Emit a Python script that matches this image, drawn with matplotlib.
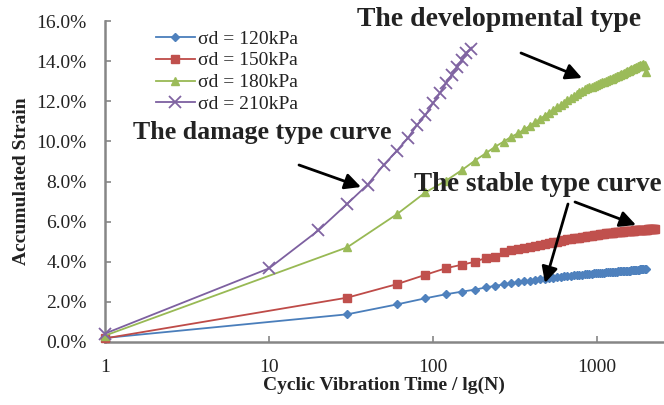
import matplotlib
matplotlib.use("Agg")
import matplotlib.pyplot as plt
from matplotlib.ticker import FuncFormatter, FixedLocator, NullLocator

# ---------------- data ----------------
N_CYCLES = [1, 30, 60, 90, 120, 150, 180, 210, 240, 270, 300, 330, 360, 390, 420, 450,
            480, 510, 540, 570, 600, 630, 660, 690, 720, 750, 780, 810, 840, 870, 900,
            930, 960, 990, 1020, 1050, 1080, 1110, 1140, 1170, 1200, 1230, 1260, 1290,
            1320, 1350, 1380, 1410, 1440, 1470, 1500, 1530, 1560, 1590, 1620, 1650, 1680,
            1710, 1740, 1770, 1800, 1830, 1860, 1890, 1920, 1950, 1980, 2010, 2040, 2070,
            2100, 2130, 2160, 2190, 2220, 2250]

strain_120 = [0.20, 1.38, 1.87, 2.18, 2.38, 2.51, 2.61, 2.72, 2.80, 2.87, 2.93, 2.98, 3.02,
              3.05, 3.09, 3.12, 3.15, 3.18, 3.20, 3.22, 3.25, 3.27, 3.29, 3.30, 3.32, 3.33,
              3.35, 3.36, 3.37, 3.39, 3.40, 3.41, 3.42, 3.43, 3.44, 3.45, 3.46, 3.46, 3.47,
              3.48, 3.49, 3.49, 3.50, 3.51, 3.51, 3.52, 3.52, 3.53, 3.54, 3.54, 3.55, 3.55,
              3.56, 3.56, 3.57, 3.57, 3.58, 3.58, 3.59, 3.60, 3.61, 3.62, 3.63, 3.64, 3.64,
              3.65, 3.66]

strain_150 = [0.18, 2.21, 2.88, 3.35, 3.68, 3.85, 4.00, 4.19, 4.25, 4.50, 4.60, 4.66, 4.70,
              4.74, 4.80, 4.85, 4.89, 4.93, 4.96, 5.00, 5.03, 5.07, 5.12, 5.14, 5.16, 5.18,
              5.20, 5.22, 5.24, 5.26, 5.28, 5.29, 5.31, 5.32, 5.34, 5.36, 5.39, 5.40, 5.41,
              5.42, 5.43, 5.44, 5.45, 5.46, 5.47, 5.48, 5.48, 5.49, 5.50, 5.51, 5.51, 5.52,
              5.53, 5.53, 5.54, 5.55, 5.55, 5.56, 5.56, 5.57, 5.57, 5.58, 5.58, 5.59, 5.59,
              5.60, 5.60, 5.60, 5.61, 5.61, 5.61, 5.62, 5.62, 5.62, 5.63, 5.63]

strain_180 = [0.32, 4.72, 6.36, 7.46, 8.04, 8.57, 9.04, 9.41, 9.74, 9.99, 10.23, 10.40,
              10.60, 10.78, 10.96, 11.12, 11.28, 11.43, 11.56, 11.69, 11.81, 11.92, 12.05,
              12.15, 12.25, 12.34, 12.44, 12.52, 12.59, 12.64, 12.69, 12.73, 12.78, 12.83,
              12.87, 12.91, 12.94, 12.98, 13.02, 13.05, 13.09, 13.12, 13.16, 13.20, 13.24,
              13.28, 13.31, 13.35, 13.38, 13.42, 13.45, 13.49, 13.52, 13.55, 13.59, 13.62,
              13.65, 13.68, 13.71, 13.74, 13.77, 13.80, 13.78, 13.82, 13.84, 13.80, 13.45]

N_CYCLES_210 = [1, 10, 20, 30, 40, 50, 60, 70, 80, 90, 100, 110, 120, 130, 140, 150, 160, 170]
strain_210 = [0.42, 3.67, 5.56, 6.89, 7.85, 8.82, 9.52, 10.15, 10.82, 11.32, 11.90, 12.40,
              12.90, 13.31, 13.69, 14.06, 14.42, 14.60]

series_labels = ["σd = 120kPa", "σd = 150kPa", "σd = 180kPa", "σd = 210kPa"]
x_ticks = [1, 10, 100, 1000]
y_ticks = [0, 2, 4, 6, 8, 10, 12, 14, 16]

# ---------------- figure ----------------
W, H = 664, 405
fig = plt.figure(figsize=(W / 100, H / 100), dpi=100)
ax = fig.add_axes([105 / W, 1 - 342 / H, (W - 105) / W, 321 / H])

serif = ["Liberation Serif", "DejaVu Serif"]
plt.rcParams["font.family"] = serif

styles = [
    dict(color="#4A7EBB", marker="D", ms=4.4, mfc="#4F81BD", mec="#4F81BD"),
    dict(color="#BE4B48", marker="s", ms=5.8, mfc="#C0504D", mec="#C0504D"),
    dict(color="#98B954", marker="^", ms=6.2, mfc="#9BBB59", mec="#9BBB59"),
    dict(color="#7D60A0", marker="x", ms=8.0, mfc="#8064A2", mec="#8064A2", mew=1.3),
]
xs = [N_CYCLES[:len(strain_120)], N_CYCLES[:len(strain_150)], N_CYCLES[:len(strain_180)], N_CYCLES_210]
ys = [strain_120, strain_150, strain_180, strain_210]
for x, y, lab, st in zip(xs, ys, series_labels, styles):
    ax.plot(x, y, label=lab, lw=1.3, clip_on=False, zorder=3, **st)

ax.set_xscale("log")
ax.set_xlim(1, 10 ** ((W - 105) / 164))
ax.set_ylim(0, 16)
ax.xaxis.set_major_locator(FixedLocator(x_ticks))
ax.xaxis.set_minor_locator(NullLocator())
ax.xaxis.set_major_formatter(FuncFormatter(lambda v, p: f"{v:g}"))
ax.yaxis.set_major_locator(FixedLocator(y_ticks))
ax.yaxis.set_major_formatter(FuncFormatter(lambda v, p: f"{v:.1f}%"))

for side in ["top", "right"]:
    ax.spines[side].set_visible(False)
for side in ["left", "bottom"]:
    ax.spines[side].set_color("#868686")
    ax.spines[side].set_linewidth(1.8)
ax.tick_params(axis="both", which="major", direction="in", length=4, width=1.2,
               color="#868686", labelsize=14, labelcolor="#222222")
ax.tick_params(axis="y", pad=13)
ax.tick_params(axis="x", pad=12)
for t in ax.get_xticklabels() + ax.get_yticklabels():
    t.set_family(serif)

ax.set_xlabel("Cyclic Vibration Time / lg(N)", fontsize=14, fontweight="bold",
              family=serif, color="#222222")
ax.set_ylabel("Accumulated Strain", fontsize=14, fontweight="bold", family=serif,
              color="#222222")
ax.xaxis.label.set_va("center")
ax.yaxis.label.set_va("center")
ax.xaxis.set_label_coords((384 - 105) / (W - 105), (342 - 385) / 321)
ax.yaxis.set_label_coords((22 - 105) / (W - 105), 0.5)

leg = ax.legend(loc="upper left", bbox_to_anchor=(156 / W, 1 - 30 / H),
                bbox_transform=fig.transFigure, frameon=False,
                prop=dict(family=serif, size=14), handlelength=2.0,
                handletextpad=0.15, labelspacing=0.22, borderpad=0, borderaxespad=0)
for t in leg.get_texts():
    t.set_color("#222222")

# ---------------- annotations ----------------
def px(x, y):
    return (x / W, 1 - y / H)

ann_kw = dict(fontweight="bold", family=serif, color="#222222",
              ha="center", va="center")
fig.text(*px(499, 19), "The developmental type", fontsize=20, **ann_kw)
fig.text(*px(262, 133), "The damage type curve", fontsize=18.6, **ann_kw)
fig.text(*px(538, 184), "The stable type curve", fontsize=19.5, **ann_kw)

arrow_kw = dict(arrowstyle="-|>", mutation_scale=24, lw=2, color="black",
                shrinkA=0, shrinkB=0)
for (x0, y0, x1, y1) in [(521, 53, 582, 78), (299, 165, 361, 187),
                         (575, 202, 636, 225), (568, 204, 545, 283)]:
    ax.annotate("", xy=px(x1, y1), xytext=px(x0, y0), xycoords="figure fraction",
                textcoords="figure fraction", arrowprops=arrow_kw, zorder=5)

fig.savefig("out.png", dpi=100)
